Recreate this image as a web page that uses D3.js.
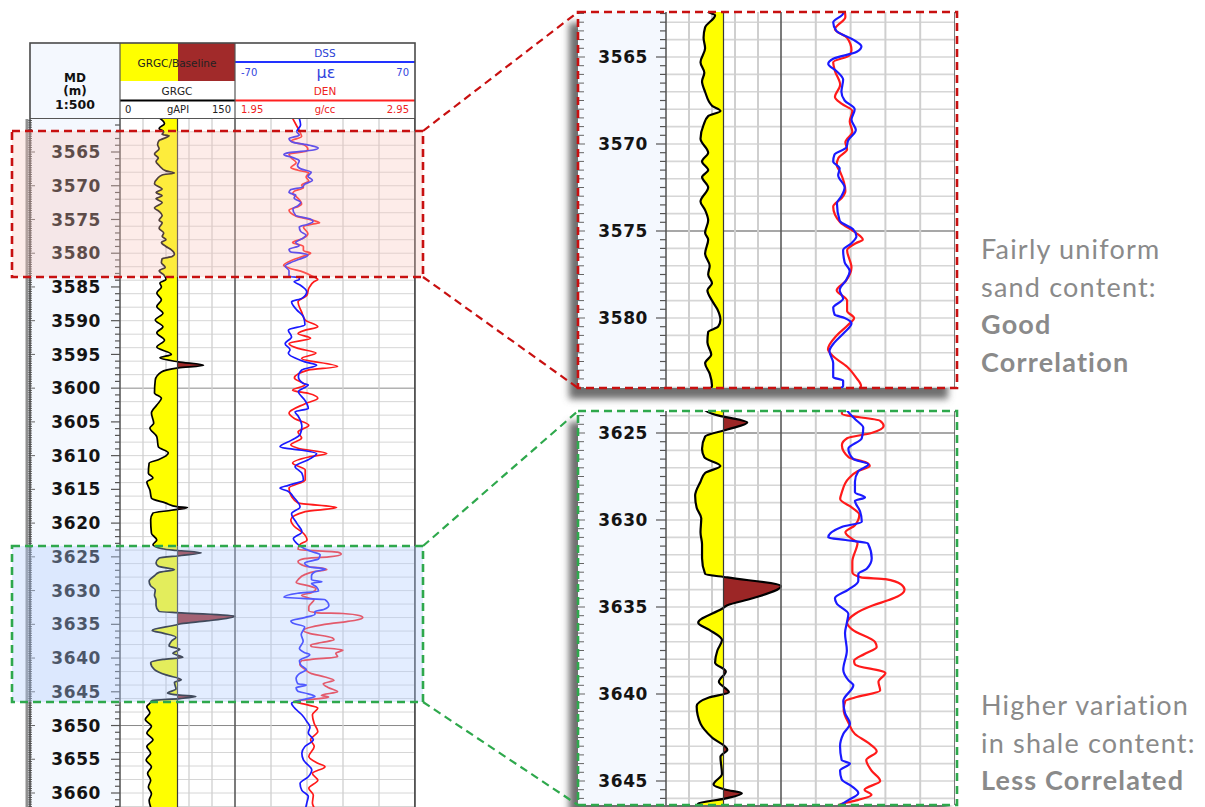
<!DOCTYPE html>
<html>
<head>
<meta charset="utf-8">
<script src="https://cdn.jsdelivr.net/npm/d3@7"></script>
<style>
  html, body { margin: 0; padding: 0; background: #fff; }
  svg { display: block; }
</style>
</head>
<body>
<svg id="chart" width="1205" height="807"></svg>
<script>
// ---- Log data (measured depth in m) ----
// GRGC gamma ray, gAPI
const grDepth = [3560.0,3560.8,3561.5,3562.0,3562.4,3562.6,3563.3,3563.9,3564.5,3565.3,3565.9,3566.4,3567.0,3567.8,3568.1,3568.4,3568.9,3569.7,3570.5,3571.0,3571.5,3571.9,3572.5,3573.3,3573.8,3574.4,3575.1,3575.5,3576.3,3577.0,3577.5,3578.0,3578.4,3579.0,3579.5,3580.1,3580.5,3580.8,3581.4,3582.1,3582.6,3583.2,3583.9,3584.4,3585.0,3585.9,3586.9,3587.9,3588.9,3589.9,3590.9,3591.8,3592.9,3593.9,3595.0,3595.5,3596.1,3596.6,3597.0,3597.6,3598.8,3600.7,3601.5,3602.5,3603.7,3605.2,3605.9,3607.2,3608.7,3609.6,3610.6,3611.1,3612.6,3613.3,3613.9,3615.1,3616.3,3617.0,3617.6,3617.7,3618.1,3618.5,3619.5,3621.5,3622.5,3623.2,3623.8,3624.0,3624.1,3624.4,3624.8,3625.2,3625.9,3626.4,3626.9,3627.3,3627.8,3628.6,3629.3,3629.9,3630.7,3631.4,3632.2,3633.1,3633.3,3633.8,3634.5,3634.9,3635.1,3635.9,3636.3,3636.9,3637.5,3638.2,3638.7,3639.3,3639.9,3640.2,3640.7,3641.7,3642.5,3643.2,3643.6,3644.6,3645.2,3645.5,3645.7,3646.0,3646.3,3646.7,3647.2,3648.1,3649.1,3650.1,3651.1,3652.1,3653.1,3654.1,3655.1,3656.1,3657.1,3658.1,3659.1,3660.1,3661.1,3662.1];
const grValue = [52,58,51,57,55,64,51,49,51,45,50,47,51,60,71,55,49,45,55,47,55,47,55,45,51,55,51,55,51,57,55,60,54,60,67,71,68,55,54,59,51,57,60,52,54,48,54,48,56,46,56,48,58,48,67,52,76,109,76,54,46,45,54,48,41,44,39,48,50,63,50,38,37,43,35,39,41,59,76,88,67,43,40,41,48,43,55,69,80,106,80,51,47,50,71,51,45,38,40,46,45,47,47,51,80,150,113,80,73,42,56,73,67,64,78,69,82,56,40,45,60,80,71,73,62,78,99,78,42,39,35,39,33,41,35,43,35,40,34,41,36,40,37,41,38,40];

// DSS strain, micro-strain
const dssDepth = [3560.0,3561.0,3562.0,3562.5,3563.0,3563.5,3564.0,3564.4,3564.7,3565.1,3565.4,3565.8,3566.3,3567.0,3567.5,3568.0,3568.6,3569.2,3569.8,3570.2,3570.6,3571.0,3571.4,3571.8,3572.5,3573.0,3573.4,3574.4,3574.9,3575.3,3575.7,3576.1,3576.8,3577.3,3577.8,3578.4,3578.9,3579.4,3579.8,3580.0,3580.3,3580.9,3581.4,3581.9,3582.6,3583.4,3583.6,3583.9,3584.2,3584.7,3585.7,3586.7,3587.2,3588.4,3589.4,3590.6,3591.4,3592.4,3593.4,3594.3,3594.8,3596.1,3596.6,3597.3,3598.3,3599.3,3599.5,3600.5,3601.8,3603.0,3603.5,3604.2,3605.7,3606.9,3607.7,3608.7,3608.9,3609.2,3609.7,3610.6,3611.6,3612.6,3613.6,3614.4,3614.8,3615.3,3616.1,3617.6,3618.6,3620.0,3621.3,3622.3,3623.0,3623.8,3624.2,3624.7,3625.3,3625.9,3626.5,3626.8,3627.2,3627.8,3628.4,3628.7,3628.9,3629.5,3630.1,3630.4,3631.0,3631.15,3631.35,3632.2,3632.8,3633.1,3633.5,3634.0,3634.5,3634.8,3635.4,3635.9,3636.5,3637.5,3638.6,3639.2,3639.5,3640.4,3641.1,3641.7,3642.3,3643.0,3643.8,3644.0,3644.4,3644.9,3645.3,3645.7,3646.1,3646.4,3646.7,3647.7,3648.4,3649.4,3650.2,3651.1,3652.1,3653.1,3654.1,3655.1,3656.6,3657.6,3658.6,3659.6,3660.5,3661.5,3662.2];
const dssValue = [-20,-19,-22,-20,-28,-25.5,-12,-5.3,-9,-28,-32,-25.5,-20,-21.4,-18.8,-10.7,-13.3,-9.8,-16,-17.4,-26.9,-28,-22.8,-24,-18.8,-21.4,-25,-22.8,-12,-9.3,-13.3,-20,-18.8,-14.7,-17.4,-22.8,-20,-28,-26.9,-18.8,-13.3,-20,-26.9,-31,-28,-28,-20,-20,-24,-19.4,-14.2,-18,-26,-22,-16.8,-15.6,-28.5,-26,-31,-27.2,-28.5,-15.6,-6.5,-18,-20.7,-16.8,-13,-20.7,-15.6,-13,-23.3,-20.7,-18,-19.4,-26,-35,-31,-18,-6.5,-13,-23.3,-18,-16.8,-28.5,-35,-28.5,-24.6,-19.4,-26,-22,-18,-24.6,-22,-15.8,-10.5,-3.8,-5,-15.8,-11.8,0.3,-7.8,-10.5,-10.5,-2.4,-10.5,-6.4,-5,-21.2,-32,-18,0,3,-1,-7.8,-7.8,-15.8,-26.6,-25.2,-15.8,-17,-18.5,-17,-19.9,-15.8,-11.8,-19.9,-18.5,-14.5,-19.9,-22.5,-21.2,-14.5,-22.5,-21.2,-13.1,-7.8,-15.8,-22.5,-26,-22,-18,-14.2,-11.7,-13,-9.1,-15.6,-18,-16.8,-10.3,-13,-19.4,-18,-13,-14.2,-15];

// DEN bulk density, g/cc
const denDepth = [3560.0,3561.0,3562.0,3562.7,3563.4,3563.9,3564.6,3564.9,3565.3,3565.8,3566.6,3567.3,3567.7,3568.1,3568.7,3569.3,3569.9,3570.3,3570.8,3571.2,3571.6,3572.7,3573.1,3573.6,3574.5,3575.1,3575.5,3575.7,3576.1,3577.1,3577.9,3578.4,3579.0,3579.6,3580.0,3580.4,3581.0,3581.8,3582.2,3582.8,3583.4,3583.9,3584.2,3585.2,3586.2,3587.2,3588.7,3589.9,3590.9,3591.4,3591.9,3592.6,3593.4,3594.1,3594.8,3595.6,3596.8,3597.3,3598.5,3599.5,3600.3,3600.8,3601.5,3602.3,3603.7,3604.5,3605.5,3606.5,3607.4,3608.4,3608.9,3609.7,3610.2,3611.1,3612.1,3613.6,3614.8,3616.1,3617.0,3617.7,3618.3,3619.5,3620.5,3621.5,3622.5,3623.2,3623.9,3624.3,3624.6,3625.0,3625.3,3625.7,3626.4,3626.7,3626.9,3627.2,3627.6,3628.4,3628.8,3629.3,3629.7,3630.3,3630.7,3631.1,3631.3,3632.4,3633.0,3633.3,3633.4,3633.7,3634.0,3634.4,3634.6,3634.9,3635.4,3635.9,3636.3,3637.0,3637.3,3637.7,3638.1,3638.3,3638.8,3639.3,3639.8,3640.2,3640.4,3640.9,3641.7,3642.3,3642.8,3643.3,3643.8,3644.4,3645.0,3645.5,3645.8,3646.1,3646.4,3646.8,3647.4,3648.4,3649.7,3650.9,3652.1,3653.1,3654.6,3655.6,3656.1,3657.1,3658.1,3659.3,3660.3,3661.5,3662.2];
const denValue = [2.27,2.29,2.31,2.32,2.26,2.33,2.355,2.345,2.25,2.26,2.29,2.26,2.30,2.36,2.345,2.36,2.32,2.33,2.28,2.27,2.29,2.32,2.30,2.25,2.29,2.38,2.42,2.38,2.33,2.355,2.32,2.27,2.33,2.33,2.37,2.335,2.27,2.22,2.25,2.33,2.38,2.41,2.39,2.36,2.35,2.30,2.32,2.34,2.41,2.34,2.30,2.37,2.25,2.30,2.40,2.32,2.52,2.36,2.28,2.34,2.27,2.36,2.41,2.34,2.25,2.28,2.36,2.30,2.32,2.26,2.30,2.46,2.36,2.27,2.34,2.34,2.25,2.265,2.30,2.515,2.34,2.26,2.28,2.33,2.35,2.31,2.30,2.52,2.54,2.47,2.33,2.30,2.34,2.44,2.46,2.39,2.34,2.30,2.29,2.36,2.40,2.375,2.32,2.36,2.39,2.36,2.36,2.41,2.55,2.64,2.66,2.62,2.57,2.48,2.375,2.33,2.36,2.49,2.50,2.43,2.37,2.375,2.55,2.51,2.52,2.375,2.32,2.31,2.34,2.375,2.45,2.50,2.44,2.47,2.52,2.43,2.47,2.39,2.28,2.33,2.41,2.38,2.39,2.41,2.37,2.39,2.36,2.41,2.45,2.38,2.41,2.36,2.385,2.38,2.39];

// Track scales
const grRange = [0, 150];
const grBaseline = 75;
const grGridValues = [30, 60, 90, 120];
const dssRange = [-70, 70];
const denRange = [1.95, 2.95];
const dssGridValues = [-42, -14, 14, 42];

// Annotation text
const goodLines = ["Fairly uniform", "sand content:"];
const goodBold = ["Good", "Correlation"];
const lessLines = ["Higher variation", "in shale content:"];
const lessBold = ["Less Correlated"];

const svg = d3.select("#chart");
const defs = svg.append("defs");

const flt = defs.append("filter").attr("id", "soft").attr("x", "-10%").attr("y", "-10%")
  .attr("width", "120%").attr("height", "120%");
flt.append("feGaussianBlur").attr("stdDeviation", 3.5);

const grPts = grDepth.map((d, i) => ({ d, v: grValue[i] }));
const dssPts = dssDepth.map((d, i) => ({ d, v: dssValue[i] }));
const denPts = denDepth.map((d, i) => ({ d, v: denValue[i] }));

function drawLog(root, c) {
  const y = d3.scaleLinear().domain(c.depthDomain).range(c.depthRange);
  const xGR = d3.scaleLinear().domain(grRange).range([c.depthR, c.grR]);
  const xDSS = d3.scaleLinear().domain(dssRange).range([c.grR, c.dssR]);
  const xDEN = d3.scaleLinear().domain(denRange).range([c.grR, c.dssR]);
  const xBase = xGR(grBaseline);

  const clipId = c.id + "-clip";
  defs.append("clipPath").attr("id", clipId).append("rect")
    .attr("x", c.x0).attr("y", c.top).attr("width", c.dssR - c.x0).attr("height", c.bottom - c.top);
  defs.append("clipPath").attr("id", c.id + "-left").append("rect")
    .attr("x", c.depthR).attr("y", c.top).attr("width", xBase - c.depthR).attr("height", c.bottom - c.top);
  defs.append("clipPath").attr("id", c.id + "-right").append("rect")
    .attr("x", xBase).attr("y", c.top).attr("width", c.grR - xBase).attr("height", c.bottom - c.top);

  const g = root.append("g").attr("clip-path", `url(#${clipId})`);

  g.append("rect").attr("x", c.x0).attr("y", c.top).attr("width", c.dssR - c.x0)
    .attr("height", c.bottom - c.top).attr("fill", "#fff");
  g.append("rect").attr("x", c.x0).attr("y", c.top).attr("width", c.depthR - c.x0)
    .attr("height", c.bottom - c.top).attr("fill", "#f4f8fe");

  const d0 = y.invert(c.top), d1 = y.invert(c.bottom);

  // horizontal depth grid
  const gridDepths = d3.range(Math.ceil(d0), Math.floor(d1) + 1).filter(d => d % c.gridStep === 0);
  g.append("g").selectAll("line").data(gridDepths).join("line")
    .attr("x1", c.depthR).attr("x2", c.dssR)
    .attr("y1", d => y(d)).attr("y2", d => y(d))
    .attr("stroke", d => d % c.darkStep === 0 ? "#8a8a8a" : "#d6d6d6")
    .attr("stroke-width", c.gridW);

  // vertical grid
  g.append("g").selectAll("line").data(grGridValues).join("line")
    .attr("x1", d => xGR(d)).attr("x2", d => xGR(d)).attr("y1", c.top).attr("y2", c.bottom)
    .attr("stroke", "#cfcfcf").attr("stroke-width", c.vgridW);
  g.append("g").selectAll("line").data(dssGridValues).join("line")
    .attr("x1", d => xDSS(d)).attr("x2", d => xDSS(d)).attr("y1", c.top).attr("y2", c.bottom)
    .attr("stroke", "#cfcfcf").attr("stroke-width", c.vgridW);

  // GR shading against baseline
  const area = d3.area().curve(d3.curveMonotoneY)
    .y(p => y(p.d)).x0(p => xGR(p.v)).x1(xBase);
  g.append("path").datum(grPts).attr("d", area).attr("fill", "#ffff00")
    .attr("clip-path", `url(#${c.id}-left)`);
  g.append("path").datum(grPts).attr("d", area).attr("fill", "#9c2626")
    .attr("clip-path", `url(#${c.id}-right)`);

  // curves
  const line = (xs) => d3.line().curve(d3.curveMonotoneY).y(p => y(p.d)).x(p => xs(p.v));
  g.append("path").datum(grPts).attr("d", line(xGR)).attr("fill", "none")
    .attr("stroke", "#000").attr("stroke-width", c.lw).attr("stroke-linejoin", "round");
  g.append("path").datum(denPts).attr("d", line(xDEN)).attr("fill", "none")
    .attr("stroke", "#ff1a1a").attr("stroke-width", c.lw).attr("stroke-linejoin", "round");
  g.append("path").datum(dssPts).attr("d", line(xDSS)).attr("fill", "none")
    .attr("stroke", "#1a1aff").attr("stroke-width", c.lw).attr("stroke-linejoin", "round");

  // baseline and track borders
  g.append("line").attr("x1", xBase).attr("x2", xBase).attr("y1", c.top).attr("y2", c.bottom)
    .attr("stroke", "#3a3a3a").attr("stroke-width", 1.2);
  [c.depthR, c.grR, c.dssR].forEach(x => {
    g.append("line").attr("x1", x).attr("x2", x).attr("y1", c.top).attr("y2", c.bottom)
      .attr("stroke", "#5a5a5a").attr("stroke-width", 1.6);
  });

  // depth ruler ticks
  const tickDepths = d3.range(Math.ceil(d0 / c.tickStep), Math.floor(d1 / c.tickStep) + 1)
    .map(k => +(k * c.tickStep).toFixed(3));
  g.append("g").selectAll("line").data(tickDepths).join("line")
    .attr("x1", d => c.depthR - (Math.abs(d % 5) < 1e-6 ? c.majorLen : c.minorLen))
    .attr("x2", c.depthR)
    .attr("y1", d => y(d)).attr("y2", d => y(d))
    .attr("stroke", "#555").attr("stroke-width", 1.2);
  const leftTicks = d3.range(Math.ceil(d0 / c.leftStep), Math.floor(d1 / c.leftStep) + 1)
    .map(k => k * c.leftStep);
  g.append("g").selectAll("line").data(leftTicks).join("line")
    .attr("x1", c.x0)
    .attr("x2", d => c.x0 + (Math.abs(d - Math.round(d / 5) * 5) < 1e-6 ? c.leftMajor : c.leftMinor))
    .attr("y1", d => y(d)).attr("y2", d => y(d))
    .attr("stroke", "#666").attr("stroke-width", 1);

  // depth labels
  const labelDepths = d3.range(Math.ceil(d0 / 5) * 5, d1 + 0.01, 5);
  g.append("g").selectAll("text").data(labelDepths).join("text")
    .attr("x", c.labelX).attr("y", d => y(d)).attr("dy", "0.36em")
    .attr("text-anchor", "end")
    .attr("font-family", "DejaVu Sans, Verdana, sans-serif").attr("font-weight", "bold")
    .attr("font-size", c.labelSize).attr("letter-spacing", "0.6px").attr("fill", "#141414")
    .text(d => d);

  return { y };
}

// ---------- Main log panel ----------
const main = {
  id: "main", x0: 28, depthR: 120, grR: 235, dssR: 415, top: 119, bottom: 807,
  depthDomain: [3565, 3660], depthRange: [152, 793],
  gridStep: 2, darkStep: 50, gridW: 1, vgridW: 1.3, lw: 1.7,
  tickStep: 1, majorLen: 9, minorLen: 5,
  leftStep: 1 / 3, leftMajor: 7, leftMinor: 4,
  labelX: 101, labelSize: 17
};
const mainG = svg.append("g");
drawLog(mainG, main);
mainG.append("rect").attr("x", 25.5).attr("y", 119).attr("width", 3).attr("height", 690).attr("fill", "#8f8f8f");

// header
const hd = mainG.append("g").attr("font-family", "DejaVu Sans, Verdana, sans-serif");
hd.append("rect").attr("x", 30).attr("y", 43).attr("width", 385).attr("height", 75)
  .attr("fill", "#fff");
hd.append("rect").attr("x", 30).attr("y", 43).attr("width", 90).attr("height", 75).attr("fill", "#f4f8fe");
hd.append("rect").attr("x", 120).attr("y", 43).attr("width", 58).attr("height", 38).attr("fill", "#ffff00");
hd.append("rect").attr("x", 178).attr("y", 43).attr("width", 57).attr("height", 38).attr("fill", "#a12a2a");
hd.append("text").attr("x", 177).attr("y", 67).attr("text-anchor", "middle").attr("font-size", 10.5)
  .attr("fill", "#222").text("GRGC/Baseline");
hd.append("text").attr("x", 177).attr("y", 95).attr("text-anchor", "middle").attr("font-size", 10.5)
  .attr("fill", "#222").text("GRGC");
hd.append("line").attr("x1", 120).attr("x2", 235).attr("y1", 100.5).attr("y2", 100.5)
  .attr("stroke", "#000").attr("stroke-width", 1.8);
hd.append("text").attr("x", 125).attr("y", 113).attr("font-size", 10).attr("fill", "#222").text(grRange[0]);
hd.append("text").attr("x", 178).attr("y", 113).attr("text-anchor", "middle").attr("font-size", 10).attr("fill", "#222").text("gAPI");
hd.append("text").attr("x", 231).attr("y", 113).attr("text-anchor", "end").attr("font-size", 10).attr("fill", "#222").text(grRange[1]);

hd.append("text").attr("x", 325).attr("y", 57).attr("text-anchor", "middle").attr("font-size", 10.5)
  .attr("fill", "#2b3fd6").text("DSS");
hd.append("line").attr("x1", 235).attr("x2", 415).attr("y1", 62).attr("y2", 62)
  .attr("stroke", "#2233ff").attr("stroke-width", 2);
hd.append("text").attr("x", 241).attr("y", 76).attr("font-size", 10).attr("fill", "#3344dd").text("-70");
hd.append("text").attr("x", 326).attr("y", 78).attr("text-anchor", "middle").attr("font-size", 16)
  .attr("fill", "#3344dd").text("\u03bc\u03b5");
hd.append("text").attr("x", 409).attr("y", 76).attr("text-anchor", "end").attr("font-size", 10).attr("fill", "#3344dd").text(dssRange[1]);
hd.append("text").attr("x", 325).attr("y", 95).attr("text-anchor", "middle").attr("font-size", 10.5)
  .attr("fill", "#ee2222").text("DEN");
hd.append("line").attr("x1", 235).attr("x2", 415).attr("y1", 100.5).attr("y2", 100.5)
  .attr("stroke", "#ff2020").attr("stroke-width", 2);
hd.append("text").attr("x", 241).attr("y", 113).attr("font-size", 10).attr("fill", "#ee2222").text(denRange[0].toFixed(2));
hd.append("text").attr("x", 325).attr("y", 113).attr("text-anchor", "middle").attr("font-size", 10).attr("fill", "#ee2222").text("g/cc");
hd.append("text").attr("x", 409).attr("y", 113).attr("text-anchor", "end").attr("font-size", 10).attr("fill", "#ee2222").text(denRange[1].toFixed(2));

hd.append("text").attr("x", 75).attr("y", 82).attr("text-anchor", "middle").attr("font-size", 12)
  .attr("font-weight", "bold").attr("fill", "#111").text("MD");
hd.append("text").attr("x", 75).attr("y", 95).attr("text-anchor", "middle").attr("font-size", 12)
  .attr("font-weight", "bold").attr("fill", "#111").text("(m)");
hd.append("text").attr("x", 75).attr("y", 109).attr("text-anchor", "middle").attr("font-size", 12.5)
  .attr("font-weight", "bold").attr("fill", "#111").text("1:500");

[120, 235].forEach(x => hd.append("line").attr("x1", x).attr("x2", x).attr("y1", 43).attr("y2", 118)
  .attr("stroke", "#555").attr("stroke-width", 1.2));
hd.append("line").attr("x1", 30).attr("x2", 415).attr("y1", 118.5).attr("y2", 118.5)
  .attr("stroke", "#555").attr("stroke-width", 1.2);
hd.append("rect").attr("x", 30).attr("y", 43).attr("width", 385).attr("height", 770)
  .attr("fill", "none").attr("stroke", "#4a4a4a").attr("stroke-width", 1.6);

// ---------- Highlight boxes on the main log ----------
const redC = "#c81010", greenC = "#2ea84c";
const boxes = [
  { x: 12, y: 131, w: 411, h: 146, fill: "rgba(248,196,186,0.32)", stroke: redC },
  { x: 12, y: 546, w: 411, h: 156, fill: "rgba(178,206,255,0.36)", stroke: greenC }
];
svg.append("g").selectAll("rect").data(boxes).join("rect")
  .attr("x", d => d.x).attr("y", d => d.y).attr("width", d => d.w).attr("height", d => d.h)
  .attr("fill", d => d.fill).attr("stroke", d => d.stroke)
  .attr("stroke-width", 2.6).attr("stroke-dasharray", "8,5");

// ---------- Zoomed insets ----------
const insetBase = {
  x0: 578, depthR: 666, grR: 781, dssR: 955,
  gridStep: 1, darkStep: 25, gridW: 1.6, vgridW: 2, lw: 2.2,
  tickStep: 0.5, majorLen: 10, minorLen: 6,
  leftStep: 0.5, leftMajor: 7, leftMinor: 6,
  labelX: 648, labelSize: 17
};
const insets = [
  Object.assign({}, insetBase, { id: "zoomA", top: 12, bottom: 388,
    depthDomain: [3565, 3580], depthRange: [57, 318], stroke: redC }),
  Object.assign({}, insetBase, { id: "zoomB", top: 411, bottom: 805,
    depthDomain: [3625, 3645], depthRange: [433, 781], stroke: greenC })
];

insets.forEach(c => {
  const ig = svg.append("g");
  ig.append("rect").attr("x", c.x0 - 9).attr("y", c.top + 11).attr("width", c.dssR - c.x0 + 2)
    .attr("height", c.bottom - c.top).attr("fill", "#6e6e6e").attr("filter", "url(#soft)");
  drawLog(ig, c);
  ig.append("rect").attr("x", c.x0).attr("y", c.top).attr("width", c.dssR + 2 - c.x0)
    .attr("height", c.bottom - c.top).attr("fill", "none").attr("stroke", c.stroke)
    .attr("stroke-width", 2.6).attr("stroke-dasharray", "8,5");
});

// connector lines from boxes to insets
const connectors = [
  { x1: 423, y1: 131, x2: 578, y2: 12, c: redC },
  { x1: 423, y1: 277, x2: 578, y2: 388, c: redC },
  { x1: 423, y1: 546, x2: 578, y2: 411, c: greenC },
  { x1: 423, y1: 702, x2: 578, y2: 805, c: greenC }
];
svg.append("g").selectAll("line").data(connectors).join("line")
  .attr("x1", d => d.x1).attr("y1", d => d.y1).attr("x2", d => d.x2).attr("y2", d => d.y2)
  .attr("stroke", d => d.c).attr("stroke-width", 2.2).attr("stroke-dasharray", "8,5");

// ---------- Annotations ----------
function annotate(lines, boldLines, x, y0, step) {
  const t = svg.append("g").attr("font-family", "Lato, 'Open Sans', sans-serif").attr("fill", "#8a8a8a")
    .attr("font-size", 27);
  lines.concat(boldLines).forEach((s, i) => {
    const bold = i >= lines.length;
    t.append("text").attr("x", x).attr("y", y0 + i * step)
      .attr("font-weight", bold ? "bold" : "normal")
      .attr("letter-spacing", bold ? "1.2px" : "1.2px").text(s);
  });
}
annotate(goodLines, goodBold, 981, 259, 37.7);
annotate(lessLines, lessBold, 981, 715, 37.5);
</script>
</body>
</html>
